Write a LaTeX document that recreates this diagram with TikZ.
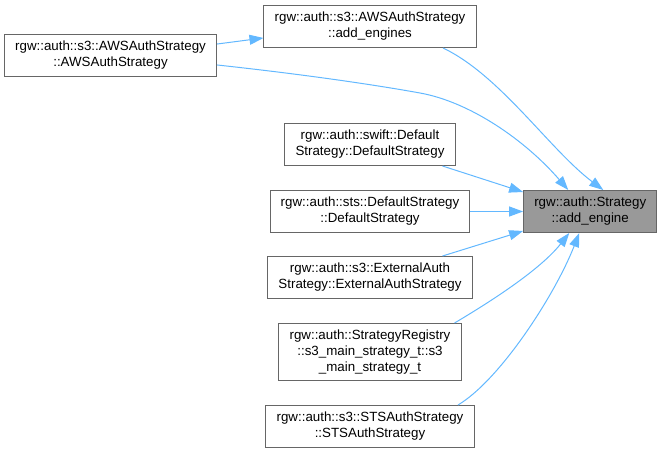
\documentclass[tikz,border=0pt]{standalone}
\usepackage{fontspec}
\setmainfont{Liberation Sans}
\usepackage{tikz}
\usetikzlibrary{arrows.meta, positioning}
\definecolor{cgedge}{HTML}{63B8FF}
\definecolor{cgborder}{HTML}{666666}
\definecolor{cghilite}{HTML}{999999}
\tikzset{
  fnbox/.style={rectangle, draw=cgborder, line width=0.75pt, fill=white,
                align=center, inner xsep=8pt, inner ysep=2pt,
                minimum height=31.5pt, font=\fontsize{10}{12}\selectfont},
  callarrow/.style={-{Triangle[length=10.5pt, width=7.5pt]},
                    line width=0.75pt, color=cgedge},
}

\begin{document}
\begin{tikzpicture}[x=0.75pt, y=-0.75pt, node distance=18pt and 39.5pt]
    \useasboundingbox (0,0) rectangle (661,453);
    \node[fnbox] (adde) at (370,26.5) {rgw::auth::s3::AWSAuthStrategy\\::add\_engines};
    \node[fnbox] (awsctor) at (110.5,55.5) {rgw::auth::s3::AWSAuthStrategy\\::AWSAuthStrategy};
    \node[fnbox, below=56.25pt of adde] (swift) {rgw::auth::swift::Default\\Strategy::DefaultStrategy};
    \node[fnbox, below=of swift] (sts) {rgw::auth::sts::DefaultStrategy\\::DefaultStrategy};
    \node[fnbox, below=17.25pt of sts] (ext) {rgw::auth::s3::ExternalAuth\\Strategy::ExternalAuthStrategy};
    \node[fnbox, minimum height=42.75pt, below=of ext] (reg) {rgw::auth::StrategyRegistry\\::s3\_main\_strategy\_t::s3\\\_main\_strategy\_t};
    \node[fnbox, below=of reg] (stsauth) {rgw::auth::s3::STSAuthStrategy\\::STSAuthStrategy};
    \node[fnbox, fill=cghilite, right=of sts] (strat) {rgw::auth::Strategy\\::add\_engine};

    \draw[callarrow] ([yshift=8.6pt]awsctor.east) -- ([yshift=-8.6pt]adde.west);
    \draw[callarrow] ([xshift=54.75pt]adde.south) .. controls (500,75) and (550,150) .. ([xshift=9.75pt]strat.north);
    \draw[callarrow] ([yshift=-7.1pt]awsctor.east) .. controls (300,74) and (370,84) .. (420,93)
                     .. controls (470,102) and (525,140) .. ([xshift=-16.5pt]strat.north);
    \draw[callarrow] ([xshift=54.4pt]swift.south) -- ([yshift=14.6pt]strat.west);
    \draw[callarrow] (sts.east) -- (strat.west);
    \draw[callarrow] ([xshift=54.4pt]ext.north) -- ([yshift=-14.6pt]strat.west);
    \draw[callarrow] ([xshift=63.4pt]reg.north) .. controls (490,302) and (540,270) .. ([xshift=-15.75pt]strat.south);
    \draw[callarrow] ([xshift=66pt]stsauth.north) .. controls (500,380) and (555,295) .. ([xshift=-8.25pt]strat.south);
\end{tikzpicture}
\end{document}
